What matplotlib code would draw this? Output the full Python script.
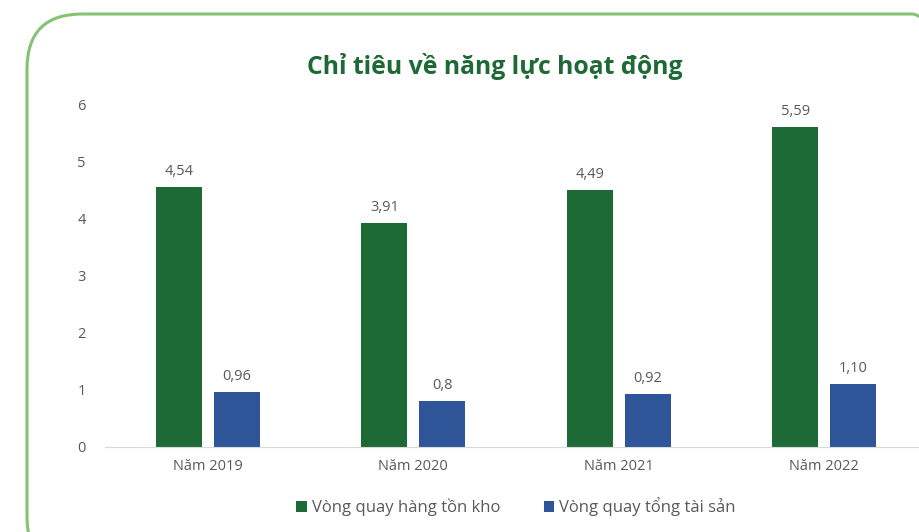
import matplotlib.pyplot as plt
from matplotlib.patches import FancyBboxPatch

# Données
categories = ['Năm 2019', 'Năm 2020', 'Năm 2021', 'Năm 2022']
vong_quay_hang_ton_kho = [4.54, 3.91, 4.49, 5.59]
vong_quay_tong_tai_san = [0.96, 0.80, 0.92, 1.10]
labels_htk = ['4,54', '3,91', '4,49', '5,59']
labels_tts = ['0,96', '0,8', '0,92', '1,10']
series_names = ['Vòng quay hàng tồn kho', 'Vòng quay tổng tài sản']

green = '#1e6a37'
blue = '#2e5597'
gray = '#595959'

plt.rcParams['font.family'] = ['Open Sans', 'DejaVu Sans']

W, H = 919, 532
fig = plt.figure(figsize=(W / 100, H / 100), dpi=100)

# Cadre arrondi vert (dépasse à droite et en bas)
frame = FancyBboxPatch((27 / W, -40 / H), 940 / W, (532 - 14 + 40) / H,
                       boxstyle='round,pad=0,rounding_size=0.06',
                       transform=fig.transFigure, fill=False,
                       edgecolor='#84c372', linewidth=2.2, mutation_aspect=W / H)
fig.patches.append(frame)

# Axes : 0 à y=447, 6 à y=104 ; x de 105 à 927
ax = fig.add_axes([105 / W, (H - 447) / H, 822 / W, (447 - 104) / H])
x = range(len(categories))
w = 0.224
off = 0.141
b1 = ax.bar([i - off for i in x], vong_quay_hang_ton_kho, width=w, color=green, label=series_names[0])
b2 = ax.bar([i + off for i in x], vong_quay_tong_tai_san, width=w, color=blue, label=series_names[1])

for bars, labs in [(b1, labels_htk), (b2, labels_tts)]:
    for bar, lab in zip(bars, labs):
        ax.annotate(lab, (bar.get_x() + bar.get_width() / 2, bar.get_height()),
                    xytext=(0, 6), textcoords='offset points', ha='center', va='bottom',
                    fontsize=10.5, color=gray)

ax.set_xlim(-0.5, 3.5)
ax.set_ylim(0, 6)
ax.set_yticks(range(7))
ax.set_xticks(list(x))
ax.set_xticklabels(categories)
ax.tick_params(axis='both', length=0, labelsize=10.5, labelcolor=gray)
ax.tick_params(axis='y', pad=14)
ax.tick_params(axis='x', pad=9)
for s in ['top', 'right', 'left']:
    ax.spines[s].set_visible(False)
ax.spines['bottom'].set_color('#d9d9d9')

fig.text(495 / W, 1 - 66 / H, 'Chỉ tiêu về năng lực hoạt động', ha='center', va='center',
         fontsize=17.8, fontweight='bold', color=green)

fig.legend(handles=[b1, b2], loc='center', bbox_to_anchor=(516 / W, 1 - 507 / H), ncol=2,
           frameon=False, fontsize=12, labelcolor=gray, handlelength=0.65, handleheight=0.65,
           handletextpad=0.3, columnspacing=2.6)

fig.savefig('out.png', dpi=100)
